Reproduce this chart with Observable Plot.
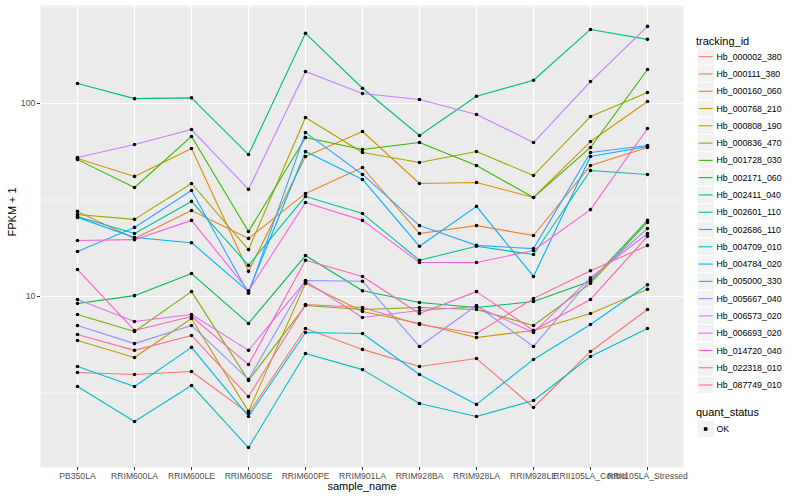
<!DOCTYPE html>
<html>
<head>
<meta charset="utf-8">
<script src="https://cdn.jsdelivr.net/npm/d3@7"></script>
<script src="https://cdn.jsdelivr.net/npm/@observablehq/plot@0.6"></script>
<style>
  html, body { margin: 0; padding: 0; background: white; }
  #wrap { position: relative; width: 800px; height: 500px; font-family: "Liberation Sans", Arial, sans-serif; }
  #chart { position: absolute; left: 0; top: 0; }
  #legend { position: absolute; left: 0; top: 0; }
</style>
</head>
<body>
<div id="wrap"><div id="chart"></div><svg id="legend" width="800" height="500" style="pointer-events:none"></svg></div>
<script>
const samples = ["PB350LA", "RRIM600LA", "RRIM600LE", "RRIM600SE", "RRIM600PE", "RRIM901LA",
  "RRIM928BA", "RRIM928LA", "RRIM928LE", "RRII105LA_Control", "RRII105LA_Stressed"];

const trackingIds = ["Hb_000002_380", "Hb_000111_380", "Hb_000160_060", "Hb_000768_210", "Hb_000808_190",
  "Hb_000836_470", "Hb_001728_030", "Hb_002171_060", "Hb_002411_040", "Hb_002601_110",
  "Hb_002686_110", "Hb_004709_010", "Hb_004784_020", "Hb_005000_330", "Hb_005667_040",
  "Hb_006573_020", "Hb_006693_020", "Hb_014720_040", "Hb_022318_010", "Hb_087749_010"];

const lineColors = ["#F8766D", "#EA8331", "#D89000", "#C09B00", "#A3A500", "#7CAE00", "#39B600", "#00BB4E",
  "#00BF7D", "#00C1A3", "#00BFC4", "#00BAE0", "#00B0F6", "#35A2FF", "#9590FF", "#C77CFF",
  "#E76BF3", "#FA62DB", "#FF62BC", "#FF6C91"];

const quantStatus = ["OK"];

// FPKM + 1 per sample (order of `samples`)
const Hb_000002_380 = [4.04, 3.94, 4.09, 2.48, 6.83, 5.32, 4.34, 4.77, 2.66, 5.19, 8.56];
const Hb_000111_380 = [27.6, 20.0, 27.9, 20.0, 34.2, 46.6, 21.2, 23.3, 20.7, 47.7, 59.2];
const Hb_000160_060 = [51.9, 41.9, 58.5, 13.5, 53.1, 71.6, 38.5, 39.0, 32.6, 63.5, 102.4];
const Hb_000768_210 = [5.92, 4.83, 7.69, 2.54, 11.7, 8.36, 7.25, 6.13, 6.67, 8.16, 10.9];
const Hb_000808_190 = [26.6, 25.1, 38.5, 17.5, 84.6, 55.7, 49.5, 56.4, 42.4, 85.6, 114];
const Hb_000836_470 = [8.07, 6.59, 10.6, 3.67, 8.98, 8.56, 8.77, 8.56, 7.08, 11.7, 24.2];
const Hb_001728_030 = [51.2, 36.7, 67.5, 21.7, 66.7, 57.8, 62.8, 47.7, 32.6, 59.2, 150];
const Hb_002171_060 = [9.20, 10.1, 13.15, 7.25, 16.3, 10.7, 9.31, 8.77, 9.42, 12.0, 24.8];
const Hb_002411_040 = [127, 106, 107, 54.4, 231, 120, 68.3, 109, 132, 242, 215];
const Hb_002601_110 = [26.0, 21.2, 31.1, 14.5, 33.0, 26.9, 15.4, 18.2, 16.5, 45.0, 42.9];
const Hb_002686_110 = [3.42, 2.25, 3.46, 1.65, 5.07, 4.18, 2.79, 2.39, 2.89, 4.89, 6.83];
const Hb_004709_010 = [4.34, 3.42, 5.45, 2.39, 6.51, 6.43, 3.94, 2.76, 4.72, 7.16, 11.5];
const Hb_004784_020 = [25.7, 20.2, 19.0, 10.6, 56.4, 40.4, 18.2, 29.3, 12.7, 53.1, 59.9];
const Hb_005000_330 = [17.1, 22.8, 35.4, 10.4, 70.7, 42.9, 23.3, 18.4, 17.7, 55.7, 60.6];
const Hb_005667_040 = [7.08, 5.70, 7.08, 3.72, 12.1, 12.0, 5.51, 8.98, 5.51, 12.25, 22.5];
const Hb_006573_020 = [52.5, 61.3, 73.3, 35.9, 146.5, 112.7, 104.9, 87.7, 62.8, 130, 251];
const Hb_006693_020 = [9.65, 7.42, 8.07, 5.26, 12.0, 7.78, 8.46, 8.88, 6.51, 12.5, 21.2];
const Hb_014720_040 = [19.5, 19.7, 24.8, 10.7, 30.7, 24.8, 15.0, 15.0, 17.3, 28.2, 74.2];
const Hb_022318_010 = [13.8, 6.67, 7.88, 4.44, 15.4, 12.7, 8.16, 10.6, 6.67, 9.65, 20.5];
const Hb_087749_010 = [6.35, 5.26, 6.28, 3.03, 9.09, 8.77, 7.16, 6.43, 9.76, 13.6, 18.4];

const seriesValues = [Hb_000002_380, Hb_000111_380, Hb_000160_060, Hb_000768_210, Hb_000808_190,
  Hb_000836_470, Hb_001728_030, Hb_002171_060, Hb_002411_040, Hb_002601_110,
  Hb_002686_110, Hb_004709_010, Hb_004784_020, Hb_005000_330, Hb_005667_040,
  Hb_006573_020, Hb_006693_020, Hb_014720_040, Hb_022318_010, Hb_087749_010];

const yMajor = [10, 100];
const yMinor = [Math.sqrt(10), Math.sqrt(1000), Math.sqrt(100000)];

const rows = trackingIds.flatMap((id, i) =>
  samples.map((s, j) => ({id, sample: s, value: seriesValues[i][j], status: quantStatus[0]})));

const font = "'Liberation Sans', Arial, Helvetica, sans-serif";

const chart = Plot.plot({
  width: 800,
  height: 500,
  marginLeft: 40,
  marginRight: 117,
  marginTop: 5,
  marginBottom: 33,
  style: {fontFamily: font, background: "white", overflow: "visible"},
  x: {type: "point", domain: samples, padding: 0.6},
  y: {type: "log", domain: [1.30, 322]},
  color: {domain: trackingIds, range: lineColors},
  marks: [
    Plot.frame({fill: "#EBEBEB", stroke: null}),
    Plot.gridY(yMinor, {stroke: "white", strokeOpacity: 1, strokeWidth: 0.6}),
    Plot.gridY(yMajor, {stroke: "white", strokeOpacity: 1, strokeWidth: 1.2}),
    Plot.gridX(samples, {stroke: "white", strokeOpacity: 1, strokeWidth: 1.2}),
    Plot.line(rows, {x: "sample", y: "value", z: "id", stroke: "id", strokeWidth: 1.1}),
    Plot.dot(rows, {x: "sample", y: "value", fill: "black", stroke: null, r: 1.8}),
    Plot.axisY(yMajor, {tickSize: 3, tickPadding: 2, fontSize: 8.8, fill: "#4D4D4D", stroke: "#333333",
      label: null, tickFormat: d => String(d)}),
    Plot.axisX(samples, {tickSize: 3, tickPadding: 2, fontSize: 8.6, fill: "#4D4D4D", stroke: "#333333", label: null}),
    Plot.text(["FPKM + 1"], {text: d => d, frameAnchor: "left", dx: -28, rotate: -90, fontSize: 11, fill: "black"}),
    Plot.text(["sample_name"], {text: d => d, frameAnchor: "bottom", dy: 22, fontSize: 11, fill: "black"})
  ]
});
document.getElementById("chart").appendChild(chart);

// Legend (ggplot-style)
const lg = d3.select("#legend").style("font-family", font);
const keyX = 697, keySize = 17.28, firstCenter = 56.7;
lg.append("text").attr("x", 696).attr("y", 44.5).attr("font-size", 11).attr("fill", "black").text("tracking_id");
trackingIds.forEach((id, i) => {
  const cy = firstCenter + i * keySize;
  lg.append("rect").attr("x", keyX).attr("y", cy - keySize / 2).attr("width", keySize).attr("height", keySize)
    .attr("fill", "#F2F2F2").attr("stroke", "white").attr("stroke-width", 1);
  lg.append("line").attr("x1", keyX + 1.7).attr("x2", keyX + keySize - 1.7).attr("y1", cy).attr("y2", cy)
    .attr("stroke", lineColors[i]).attr("stroke-width", 1.1);
  lg.append("text").attr("x", 716.5).attr("y", cy).attr("dy", "0.35em").attr("font-size", 8.8)
    .attr("fill", "black").text(id);
});
lg.append("text").attr("x", 696).attr("y", 416).attr("font-size", 11).attr("fill", "black").text("quant_status");
quantStatus.forEach((s, i) => {
  const cy = 429 + i * keySize;
  lg.append("rect").attr("x", keyX).attr("y", cy - keySize / 2).attr("width", keySize).attr("height", keySize)
    .attr("fill", "#F2F2F2").attr("stroke", "white").attr("stroke-width", 1);
  lg.append("rect").attr("x", keyX + keySize / 2 - 1.8).attr("y", cy - 1.8).attr("width", 3.6).attr("height", 3.6).attr("fill", "black");
  lg.append("text").attr("x", 716.5).attr("y", cy).attr("dy", "0.35em").attr("font-size", 8.8)
    .attr("fill", "black").text(s);
});
</script>
</body>
</html>
